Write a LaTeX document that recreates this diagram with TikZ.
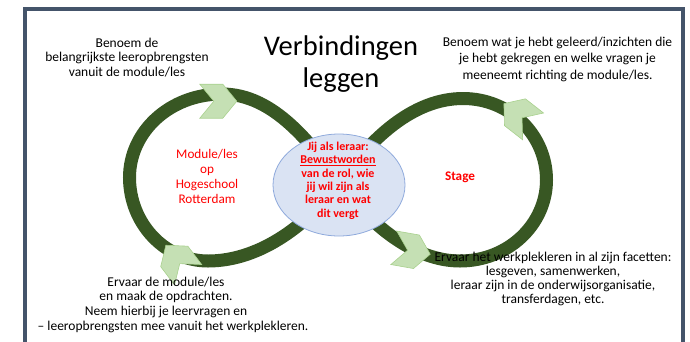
\documentclass[tikz,border=0pt]{standalone}
\usepackage{fontspec}
\setmainfont{Carlito}
\usetikzlibrary{shapes.geometric}
\definecolor{bandgreen}{HTML}{385723}
\definecolor{chevfill}{HTML}{C5E0B4}
\definecolor{chevline}{HTML}{A9D18E}
\definecolor{ellfill}{HTML}{DAE3F3}
\definecolor{ellline}{HTML}{8FAADC}
\definecolor{framecol}{HTML}{44546A}
\definecolor{redtext}{HTML}{FF0000}
\tikzset{
  band/.style={draw=bandgreen, line width=13pt},
  chev/.style={fill=chevfill, draw=chevline, line width=0.6pt, line join=miter},
  blk/.style={font=\fontsize{13.5}{14.5}\selectfont, align=center, inner sep=0pt, text=black},
  redreg/.style={font=\fontsize{13.2}{14.7}\selectfont, align=center, inner sep=0pt, text=redtext},
  redbold/.style={font=\fontsize{12}{13.4}\selectfont\bfseries, align=center, inner sep=0pt, text=redtext},
  titletext/.style={font=\fontsize{28.5}{32}\selectfont, align=center, inner sep=0pt},
  framestyle/.style={draw=framecol, line width=3.5pt}
}
\newcommand\chevronshape[3]{\draw[chev, shift={(#1,#2)}, rotate=#3] (-18.5,-17) -- (4.5,-17) -- (18.5,0) -- (4.5,17) -- (-18.5,17) -- (-4.5,0) -- cycle;}
\begin{document}
\begin{tikzpicture}[x=1pt, y=-1pt]
\useasboundingbox (0,0) rectangle (690,341);
\clip (0,0) rectangle (690,341);
\draw[framestyle] (25,9) rectangle (683,380);
% crossing point, hidden under the centre ellipse
\coordinate (cross) at (340,182);
\coordinate (topL) at (222,94);
\coordinate (leftL) at (129.5,177.5);
\coordinate (botL) at (208,261);
\coordinate (topR) at (463,98.5);
\coordinate (rightR) at (546.5,180);
\coordinate (botR) at (460,261);
% left loop
\draw[band] (cross) .. controls (312,146) and (275,94) .. (topL)
  .. controls (170,94) and (129.5,131.5) .. (leftL)
  .. controls (129.5,223.5) and (165,261) .. (botL)
  .. controls (262,261) and (310,222) .. (cross);
% right loop
\draw[band] (cross) .. controls (370,140) and (412,98.5) .. (topR)
  .. controls (510,98.5) and (546.5,135) .. (rightR)
  .. controls (546.5,224.7) and (507.8,261) .. (botR)
  .. controls (415,261) and (370,226) .. (cross);
% chevrons
\chevronshape{218.3}{101.2}{0}
\chevronshape{518.5}{115}{142}
\chevronshape{412}{251}{-10}
\chevronshape{177}{260}{127}
% centre ellipse
\node[ellipse, fill=ellfill, draw=ellline, line width=0.8pt, minimum width=132pt, minimum height=102pt, inner sep=0pt] (centre) at (339,185) {};
\node[redbold] (centretext) at (338,180.5) {Jij als leraar:\\\underline{Bewustworden}\\van de rol, wie\\jij wil zijn als\\leraar en wat\\dit vergt};
\node[redreg] (module) at (207,176.5) {Module/les\\op\\Hogeschool\\Rotterdam};
\node[redreg, font=\fontsize{13.2}{14.7}\selectfont\bfseries] (stage) at (460,177) {Stage};
\node[titletext] (title) at (341,64) {Verbindingen\\leggen};
\node[blk] (tl) at (127,57.3) {Benoem de\\belangrijkste leeropbrengsten\\vanuit de module/les};
\node[blk, font=\fontsize{13.5}{16.5}\selectfont] (tr) at (557.5,59) {Benoem wat je hebt geleerd/inzichten die\\je hebt gekregen en welke vragen je\\meeneemt richting de module/les.};
\node[blk, font=\fontsize{13.5}{14.7}\selectfont] (bl) at (166,304.6) {Ervaar de module/les\\en maak de opdrachten.\\Neem hierbij je leervragen en\\\hspace*{14pt}– leeropbrengsten mee vanuit het werkplekleren.};
\node[blk, font=\fontsize{13.5}{14.3}\selectfont] (br) at (553,279) {Ervaar het werkplekleren in al zijn facetten:\\lesgeven, samenwerken,\hspace*{50pt}\\leraar zijn in de onderwijsorganisatie,\\transferdagen, etc.};
\end{tikzpicture}
\end{document}
